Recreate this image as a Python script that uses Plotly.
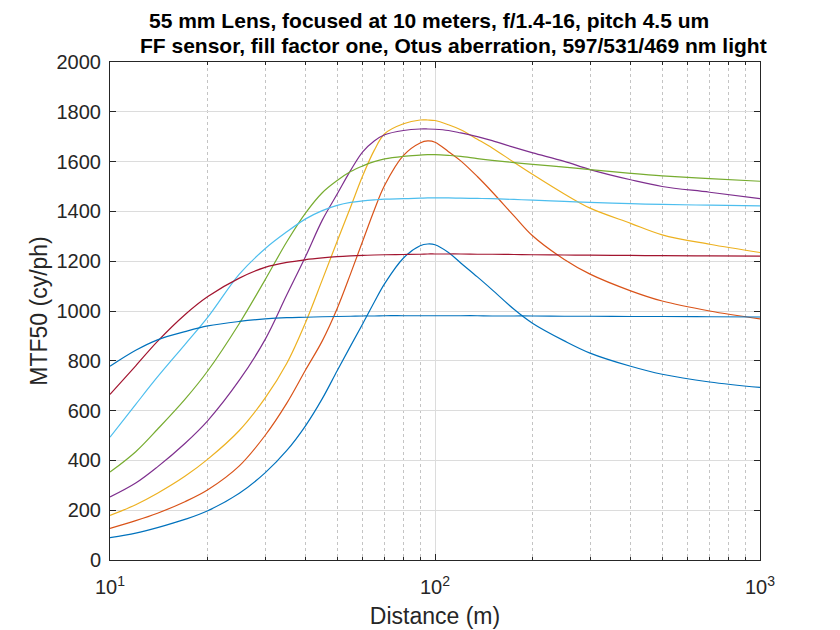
import plotly.graph_objects as go

# Distance (m) sample positions
distance = [10, 12, 14, 17, 20, 25, 30, 35, 40, 45, 50, 55, 60, 65, 70, 80, 90, 95,
            100, 110, 120, 135, 150, 175, 200, 250, 300, 400, 500, 700, 1000]

# MTF50 (cy/ph) per aperture
mtf_f1_4 = [90, 108, 130, 163, 198, 268, 350, 440, 540, 648, 760, 860, 950, 1035, 1110, 1213,
            1262, 1269, 1266, 1235, 1193, 1137, 1085, 1007, 950, 880, 831, 778, 746, 715, 693]
mtf_f2 = [127, 158, 188, 234, 282, 378, 500, 630, 764, 880, 1010, 1150, 1283, 1405, 1505, 1625,
          1675, 1683, 1678, 1640, 1603, 1540, 1478, 1382, 1301, 1207, 1148, 1081, 1040, 1000, 968]
mtf_f2_8 = [179, 222, 268, 336, 405, 520, 650, 790, 955, 1125, 1280, 1418, 1545, 1645, 1712, 1752,
            1767, 1767, 1765, 1748, 1728, 1690, 1655, 1597, 1548, 1470, 1413, 1352, 1306, 1268, 1235]
mtf_f4 = [253, 309, 374, 468, 560, 722, 885, 1065, 1220, 1365, 1470, 1565, 1640, 1683, 1708, 1725,
          1731, 1731, 1730, 1725, 1715, 1700, 1684, 1657, 1635, 1601, 1568, 1527, 1500, 1477, 1451]
mtf_f5_6 = [353, 435, 525, 645, 760, 950, 1125, 1278, 1394, 1475, 1524, 1560, 1583, 1600, 1611, 1621,
            1626, 1628, 1628, 1625, 1621, 1612, 1605, 1596, 1589, 1578, 1568, 1553, 1543, 1532, 1521]
mtf_f8 = [493, 625, 735, 865, 975, 1148, 1250, 1318, 1370, 1403, 1424, 1436, 1442, 1446, 1449, 1451,
          1453, 1454, 1454, 1454, 1453, 1452, 1451, 1448, 1445, 1440, 1436, 1431, 1428, 1425, 1422]
mtf_f11 = [665, 780, 878, 985, 1058, 1132, 1175, 1195, 1206, 1213, 1218, 1221, 1223, 1225, 1226, 1227,
           1228, 1229, 1229, 1229, 1229, 1228, 1228, 1227, 1226, 1225, 1224, 1223, 1222, 1221, 1220]
mtf_f16 = [778, 842, 884, 917, 940, 958, 968, 973, 975, 977, 978, 979, 980, 980, 981, 981,
           981, 981, 981, 981, 981, 981, 980, 980, 980, 979, 979, 978, 978, 977, 976]

series_names = ["f/1.4", "f/2", "f/2.8", "f/4", "f/5.6", "f/8", "f/11", "f/16"]
series_values = [mtf_f1_4, mtf_f2, mtf_f2_8, mtf_f4, mtf_f5_6, mtf_f8, mtf_f11, mtf_f16]
colors = ["#0072BD", "#D95319", "#EDB120", "#7E2F8E", "#77AC30", "#4DBEEE", "#A2142F", "#0072BD"]

x_tickvals = [10, 100, 1000]
x_ticktext = ["10<sup>1</sup>", "10<sup>2</sup>", "10<sup>3</sup>"]
x_minor = [20, 30, 40, 50, 60, 70, 80, 90, 200, 300, 400, 500, 600, 700, 800, 900]

title_lines = ["55 mm Lens, focused at 10 meters, f/1.4-16, pitch 4.5 um",
               "FF sensor, fill factor one, Otus aberration, 597/531/469 nm light"]

fig = go.Figure()
for name, vals, col in zip(series_names, series_values, colors):
    fig.add_trace(go.Scatter(x=distance, y=vals, mode="lines", name=name,
                             line=dict(color=col, width=1.2, shape="spline", smoothing=1.0),
                             showlegend=False))

font_family = "Liberation Sans, Arial, Helvetica, sans-serif"
axis_color = "#262626"

# two title lines, placed as in the reference (second line sits a little to the right)
for txt, xpos, ypos in zip(title_lines, [0.4908, 0.5277], [1.0843, 1.0331]):
    fig.add_annotation(
        text="<b>" + txt + "</b>",
        xref="paper", yref="paper", x=xpos, y=ypos, xanchor="center", yanchor="middle",
        showarrow=False, font=dict(size=21, color="black", family=font_family),
    )

# page body adds an 8px offset; the figure is sized so the plot area lands at x 110-760, y 62-560
fig.update_layout(
    width=832, height=622, autosize=False,
    margin=dict(l=102, r=80, t=54, b=70),
    paper_bgcolor="white", plot_bgcolor="white",
    font=dict(family=font_family, size=20, color=axis_color),
    xaxis=dict(
        type="log", range=[1, 3], automargin=False,
        tickmode="array", tickvals=x_tickvals, ticktext=x_ticktext,
        ticks="inside", ticklen=6, tickcolor=axis_color, ticklabelstandoff=9,
        showline=True, linecolor=axis_color, linewidth=1, mirror="allticks",
        showgrid=True, gridcolor="#dcdcdc", gridwidth=1,
        zeroline=False,
        minor=dict(tickmode="array", tickvals=x_minor, ticks="inside", ticklen=3,
                   tickcolor=axis_color, showgrid=True, gridcolor="#c4c4c4",
                   griddash="dot", gridwidth=1),
        title=dict(text="Distance (m)", font=dict(size=23, color=axis_color), standoff=10),
        tickfont=dict(size=20, color=axis_color),
    ),
    yaxis=dict(
        range=[0, 2000], tickmode="linear", tick0=0, dtick=200, automargin=False,
        ticks="inside", ticklen=6, tickcolor=axis_color, ticklabelstandoff=4,
        showline=True, linecolor=axis_color, linewidth=1, mirror="allticks",
        showgrid=True, gridcolor="#dcdcdc", gridwidth=1,
        zeroline=False,
        title=dict(text="MTF50 (cy/ph)", font=dict(size=23, color=axis_color), standoff=2),
        tickfont=dict(size=20, color=axis_color),
    ),
)

fig.write_html("out.html")
